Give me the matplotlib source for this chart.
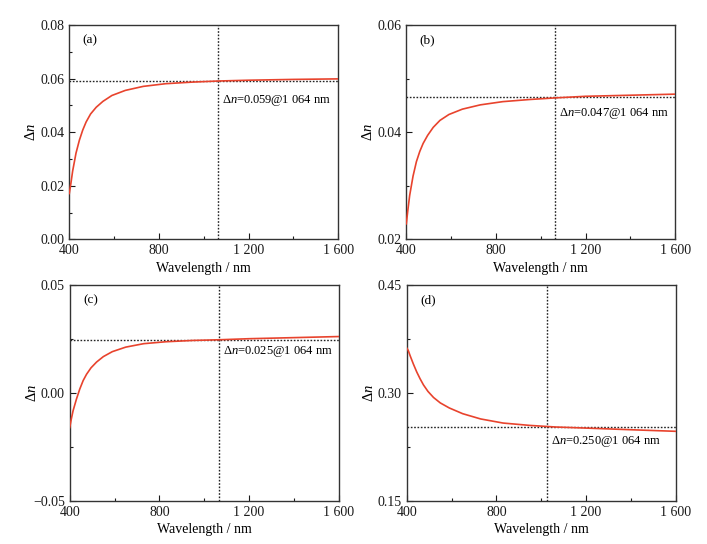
import matplotlib
matplotlib.use("Agg")
import matplotlib.pyplot as plt
from matplotlib.ticker import MultipleLocator, FuncFormatter

plt.rcParams["font.family"] = ["Liberation Serif", "DejaVu Serif"]
plt.rcParams["mathtext.fontset"] = "custom"
plt.rcParams["mathtext.rm"] = "Liberation Serif"
plt.rcParams["mathtext.it"] = "Liberation Serif:italic"
plt.rcParams["axes.unicode_minus"] = True

# values (wavelength in nm)
wavelength = [400, 407, 415, 430, 445, 460, 475, 495, 520, 550, 590, 650, 730, 830, 950, 1064, 1200, 1400, 1600]
dn_a = [0.0171, 0.0208, 0.0255, 0.0322, 0.0370, 0.0408, 0.0438, 0.0468, 0.0493, 0.0515, 0.0537,
        0.0556, 0.0571, 0.0581, 0.0587, 0.0591, 0.0594, 0.0597, 0.0599]
dn_b = [0.0229, 0.0255, 0.0282, 0.0318, 0.0345, 0.0364, 0.0379, 0.0394, 0.0409, 0.0422, 0.0433,
        0.0443, 0.0451, 0.0457, 0.0461, 0.0464, 0.0467, 0.0469, 0.0471]
dn_c = [-0.0161, -0.0122, -0.0083, -0.0029, 0.0018, 0.0057, 0.0086, 0.0116, 0.0143, 0.0168, 0.0191,
        0.0212, 0.0228, 0.0237, 0.0243, 0.0246, 0.0251, 0.0256, 0.0261]
dn_d = [0.3625, 0.3590, 0.3520, 0.3400, 0.3290, 0.3195, 0.3110, 0.3020, 0.2935, 0.2860, 0.2790,
        0.2710, 0.2637, 0.2580, 0.2547, 0.2525, 0.2510, 0.2487, 0.2465]

panel_labels = ["(a)", "(b)", "(c)", "(d)"]
marker_wl = [1064, 1064, 1064, 1025]
marker_dn = [0.0591, 0.0465, 0.0245, 0.2530]
note_values = ["0.059", "0.047", "0.025", "0.250"]
y_limits = [(0.0, 0.08), (0.02, 0.06), (-0.05, 0.05), (0.15, 0.45)]
y_major = [0.02, 0.02, 0.05, 0.15]
x_ticks = [400, 800, 1200, 1600]
x_tick_labels = ["400", "800", "1 200", "1 600"]

series = [dn_a, dn_b, dn_c, dn_d]
note_dy = [-14, -11.5, -8.5, -11]
rects = [
    [0.098, 0.560, 0.3805, 0.394],
    [0.5747, 0.560, 0.3805, 0.394],
    [0.0986, 0.0796, 0.3805, 0.3965],
    [0.5752, 0.0796, 0.3805, 0.3965],
]

fig = plt.figure(figsize=(7.07, 5.44), dpi=100)

for i in range(4):
    ax = fig.add_axes(rects[i])
    ax.plot(wavelength, series[i], color="#e8432d", lw=1.2, zorder=3)
    ax.axvline(marker_wl[i], color="#222222", lw=1.0, ls=(0, (1.2, 1.2)), zorder=2)
    ax.axhline(marker_dn[i], color="#222222", lw=1.0, ls=(0, (1.2, 1.2)), zorder=2)

    ax.set_xlim(400, 1600)
    ax.set_ylim(*y_limits[i])
    ax.set_xticks(x_ticks)
    ax.set_xticklabels(x_tick_labels)
    ax.xaxis.set_minor_locator(MultipleLocator(200))
    ax.yaxis.set_major_locator(MultipleLocator(y_major[i]))
    ax.yaxis.set_minor_locator(MultipleLocator(y_major[i] / 2))
    ax.yaxis.set_major_formatter(FuncFormatter(lambda v, p: f"{v:.2f}".replace("-", "\u2212")))

    ax.tick_params(which="both", direction="in", labelsize=10, colors="#1a1a1a")
    ax.tick_params(which="major", length=4, width=0.8)
    ax.tick_params(which="minor", length=2.5, width=0.8)
    for sp in ax.spines.values():
        sp.set_linewidth(1.0)
        sp.set_color("#333333")

    ax.set_xlabel("Wavelength / nm", fontsize=10, labelpad=3.5)
    ax.set_ylabel(r"$\Delta n$", fontsize=10.5)
    ax.yaxis.set_label_coords(-0.115, 0.5)

    ax.text(0.05, 0.93, panel_labels[i], transform=ax.transAxes, fontsize=9.5, va="center", ha="left")
    ax.annotate(r"$\Delta n$=" + note_values[i] + "@1 064 nm",
                xy=(marker_wl[i], marker_dn[i]), xytext=(3, note_dy[i]),
                textcoords="offset points", fontsize=9, ha="left", va="center")

fig.savefig("out.png", dpi=100)
